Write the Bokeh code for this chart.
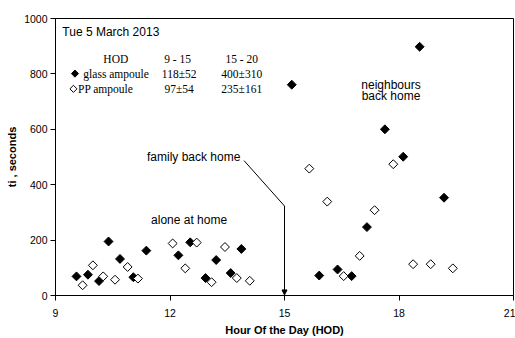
from bokeh.plotting import figure
from bokeh.models import Range1d, FixedTicker, Arrow, NormalHead
from bokeh.core.properties import value
from bokeh.embed import file_html
from bokeh.resources import INLINE

# data: glass ampoule (filled) and PP ampoule (open)
glass_x = [9.55, 9.85, 10.14, 10.39, 10.69, 11.04, 11.38, 12.22, 12.53, 12.93, 13.21, 13.59, 13.87,
           15.19, 15.91, 16.39, 16.76, 17.16, 17.63, 18.11, 18.54, 19.18]
glass_y = [69, 75, 52, 195, 132, 66, 162, 145, 192, 63, 128, 81, 168,
           761, 72, 94, 70, 247, 600, 501, 898, 353]
pp_x = [9.71, 9.98, 10.25, 10.56, 10.89, 11.16, 12.07, 12.40, 12.70, 13.09, 13.44, 13.75, 14.09,
        15.65, 16.12, 16.55, 16.97, 17.36, 17.85, 18.37, 18.83, 19.41]
pp_y = [37, 109, 69, 57, 103, 61, 188, 98, 191, 48, 175, 63, 53,
        458, 339, 70, 143, 308, 474, 113, 113, 98]

x_ticks = [9, 12, 15, 18, 21]
y_ticks = [0, 200, 400, 600, 800, 1000]

table_headers = ["HOD", "9 - 15", "15 - 20"]
table_rows = ["glass ampoule", "PP ampoule"]
glass_stats = ["118\u00b152", "400\u00b1310"]
pp_stats = ["97\u00b154", "235\u00b1161"]

arrow_x = [13.94, 15.0, 15.0]
arrow_y = [487, 323, 2]

SANS = "Liberation Sans"
SERIF = "Liberation Serif"

p = figure(width=515, height=338, output_backend="svg", toolbar_location=None,
           x_range=Range1d(9, 21), y_range=Range1d(0, 1000),
           min_border_left=55, min_border_right=2, min_border_top=18, min_border_bottom=40)
p.xgrid.visible = False
p.ygrid.visible = False
p.outline_line_color = "black"
p.outline_line_alpha = 1
p.outline_line_width = 1
p.background_fill_color = "white"
p.border_fill_color = "white"

for ax in (p.xaxis[0], p.yaxis[0]):
    ax.axis_line_color = "black"
    ax.major_tick_line_color = "black"
    ax.minor_tick_line_color = None
    ax.major_tick_in = 0
    ax.major_tick_out = 5
    ax.major_label_text_font = SANS
    ax.major_label_text_font_size = "10.5px"
    ax.major_label_text_color = "black"
    ax.axis_label_text_font = SANS
    ax.axis_label_text_font_style = "bold"
    ax.axis_label_text_font_size = "11px"
    ax.axis_label_text_color = "black"

p.xaxis.ticker = FixedTicker(ticks=x_ticks)
p.yaxis.ticker = FixedTicker(ticks=y_ticks)
p.xaxis.axis_label = "Hour Of the Day (HOD)"
p.yaxis.axis_label = "ti , seconds"
p.xaxis.major_label_standoff = 8
p.xaxis.axis_label_standoff = 4
p.yaxis.major_label_standoff = 3
p.yaxis.axis_label_standoff = 3

p.scatter(glass_x, glass_y, marker="square", angle=0.7854, size=6.3,
          fill_color="black", line_color="black", line_width=1)
p.scatter(pp_x, pp_y, marker="square", angle=0.7854, size=6.3,
          fill_color="white", line_color="black", line_width=1)

p.line(arrow_x[:2], arrow_y[:2], line_color="black", line_width=1)
p.add_layout(Arrow(x_start=arrow_x[1], y_start=arrow_y[1], x_end=arrow_x[2], y_end=arrow_y[2],
                   line_color="black", line_width=1,
                   end=NormalHead(size=5, fill_color="black", line_color="black")))

p.text(x=[9.18], y=[952], text=["Tue 5 March 2013"], text_font=value(SANS),
       text_font_size="12px", text_align="left", text_baseline="middle", text_color="black")
p.text(x=[12.62, 12.5], y=[500, 272], text=["family back home", "alone at home"],
       text_font=value(SANS), text_font_size="12px", text_align="center",
       text_baseline="middle", text_color="black")
p.text(x=[17.79, 17.79], y=[761, 719], text=["neighbours", "back home"],
       text_font=value(SANS), text_font_size="12px", text_align="center",
       text_baseline="middle", text_color="black")

p.text(x=[10.58, 12.20, 13.88], y=[853, 853, 853], text=table_headers,
       text_font=value(SERIF), text_font_size="11.5px", text_align="center",
       text_baseline="middle", text_color="black")
p.text(x=[9.73, 9.59], y=[801, 746], text=table_rows,
       text_font=value(SERIF), text_font_size="11.5px", text_align="left",
       text_baseline="middle", text_color="black")
p.text(x=[12.24, 13.88], y=[801, 801], text=glass_stats,
       text_font=value(SERIF), text_font_size="11.5px", text_align="center",
       text_baseline="middle", text_color="black")
p.text(x=[12.24, 13.88], y=[746, 746], text=pp_stats,
       text_font=value(SERIF), text_font_size="11.5px", text_align="center",
       text_baseline="middle", text_color="black")
p.scatter([9.51], [801], marker="square", angle=0.7854, size=5,
          fill_color="black", line_color="black")
p.scatter([9.47], [746], marker="square", angle=0.7854, size=5,
          fill_color="white", line_color="black")

open("out.html", "w").write(file_html(p, INLINE))
